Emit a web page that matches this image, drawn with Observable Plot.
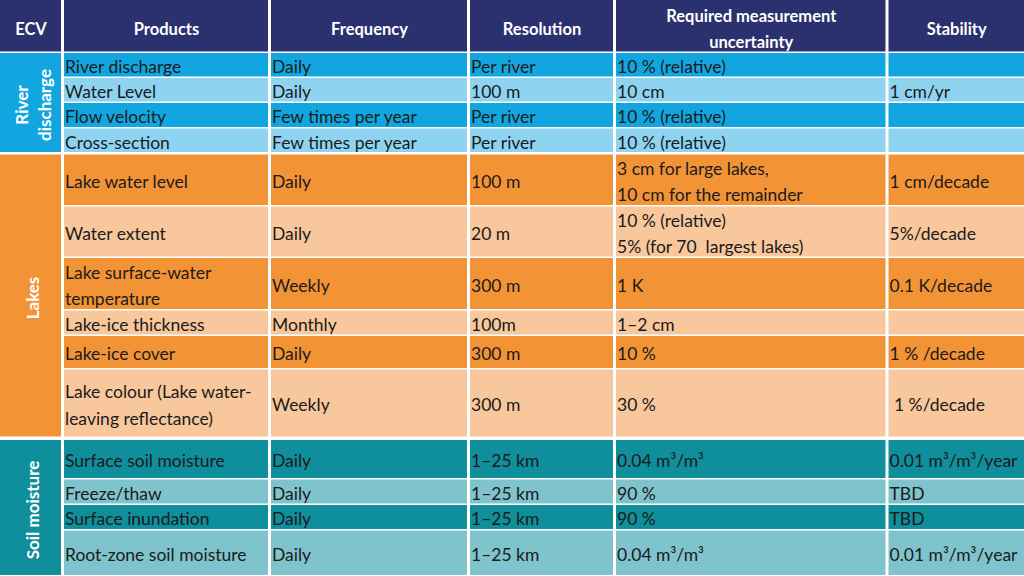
<!DOCTYPE html>
<html><head><meta charset="utf-8">
<script src="https://cdn.jsdelivr.net/npm/d3@7"></script>
<script src="https://cdn.jsdelivr.net/npm/@observablehq/plot@0.6"></script>
<style>html,body{margin:0;padding:0;background:#fff;overflow:hidden}</style>
</head><body><div id="chart"></div>
<script>
// ---- data ----
const headers = ["ECV", "Products", "Frequency", "Resolution", "Required measurement\nuncertainty", "Stability"];
const ecvGroups = ["River\ndischarge", "Lakes", "Soil moisture"];
const products = ["River discharge", "Water Level", "Flow velocity", "Cross-section",
  "Lake water level", "Water extent", "Lake surface-water\ntemperature", "Lake-ice thickness", "Lake-ice cover", "Lake colour (Lake water-\nleaving reflectance)",
  "Surface soil moisture", "Freeze/thaw", "Surface inundation", "Root-zone soil moisture"];
const frequency = ["Daily", "Daily", "Few times per year", "Few times per year",
  "Daily", "Daily", "Weekly", "Monthly", "Daily", "Weekly",
  "Daily", "Daily", "Daily", "Daily"];
const resolution = ["Per river", "100 m", "Per river", "Per river",
  "100 m", "20 m", "300 m", "100m", "300 m", "300 m",
  "1–25 km", "1–25 km", "1–25 km", "1–25 km"];
const uncertainty = ["10 % (relative)", "10 cm", "10 % (relative)", "10 % (relative)",
  "3 cm for large lakes,\n10 cm for the remainder", "10 % (relative)\n5% (for 70\u00a0 largest lakes)", "1 K", "1–2 cm", "10 %", "30 %",
  "0.04 m³/m³", "90 %", "90 %", "0.04 m³/m³"];
const stability = ["", "1 cm/yr", "", "",
  "1 cm/decade", "5%/decade", "0.1 K/decade", "", "1 % /decade", "\u00a01 %/decade",
  "0.01 m³/m³/year", "TBD", "TBD", "0.01 m³/m³/year"];
const rowGroup = [0,0,0,0, 1,1,1,1,1,1, 2,2,2,2];

// ---- layout & style ----
const colEdges = [0, 62.5, 269.5, 468.5, 614.5, 887, 1024];
const headerBand = [0, 51.5];
const rowBands = [[53,77.5],[78,102.5],[103,128],[128.5,153],
  [154.5,206],[206.5,257.5],[258,310],[310.5,335.5],[336,369],[369.5,437.5],
  [440,479],[479.5,504.5],[505,530],[530.5,576]];
const headerFill = "#2b306e";
const groupFills = [["#12a6e0", "#8ed4f1"], ["#f29336", "#f8c79b"], ["#0f8e9b", "#7fc3cc"]];
const inset = 1.5;

const cols = [products, frequency, resolution, uncertainty, stability];
const cells = [];
rowGroup.forEach((g, r) => {
  cols.forEach((col, ci) => {
    const c = ci + 1;
    const x1 = colEdges[c] + inset, x2 = c === 5 ? colEdges[c + 1] : colEdges[c + 1] - inset;
    const [y1, y2] = rowBands[r];
    const shade = r - rowGroup.indexOf(g);
    cells.push({x1, x2, y1: y1, y2: y2 - 1, fill: groupFills[g][shade % 2], text: col[r]});
  });
});
const headerCells = headers.map((h, c) => ({
  x1: c === 0 ? 0 : colEdges[c] + inset, x2: c === 5 ? colEdges[c + 1] : colEdges[c + 1] - inset,
  y1: headerBand[0], y2: headerBand[1], text: h
}));
const groupCells = ecvGroups.map((name, g) => {
  const rs = rowGroup.map((v, i) => v === g ? i : -1).filter(i => i >= 0);
  return {x1: 0, x2: colEdges[1] - inset, y1: rowBands[rs[0]][0], y2: rowBands[rs[rs.length - 1]][1] - 1, fill: groupFills[g][0], text: name};
});

const chart = Plot.plot({
  width: 1024, height: 576,
  margin: 0,
  x: {domain: [0, 1024], range: [0, 1024], axis: null},
  y: {domain: [0, 576], range: [0, 576], axis: null},
  style: {fontFamily: "Lato, 'Open Sans', sans-serif", background: "#fff"},
  marks: [
    Plot.rect(headerCells, {x1: "x1", x2: "x2", y1: "y1", y2: "y2", fill: headerFill}),
    Plot.text(headerCells, {x: d => (d.x1 + d.x2) / 2, y: d => (d.y1 + d.y2) / 2, text: "text",
      fill: "white", fontWeight: "bold", fontSize: 16.5, lineHeight: 1.6}),
    Plot.rect(groupCells, {x1: "x1", x2: "x2", y1: "y1", y2: "y2", fill: "fill"}),
    Plot.text(groupCells, {x: d => (d.x1 + d.x2) / 2 + 1, y: d => (d.y1 + d.y2) / 2 + 2, text: "text",
      fill: "white", fontWeight: "bold", fontSize: 17, rotate: -90, lineHeight: 1.35}),
    Plot.rect(cells, {x1: "x1", x2: "x2", y1: "y1", y2: "y2", fill: "fill"}),
    Plot.text(cells, {x: d => d.x1 + 0.5, y: d => (d.y1 + d.y2) / 2 - 0.5, text: "text",
      textAnchor: "start", fill: "#1b1b1b", fontSize: 17.5, lineHeight: 1.5})
  ]
});
document.getElementById("chart").appendChild(chart);
</script>
</body></html>
